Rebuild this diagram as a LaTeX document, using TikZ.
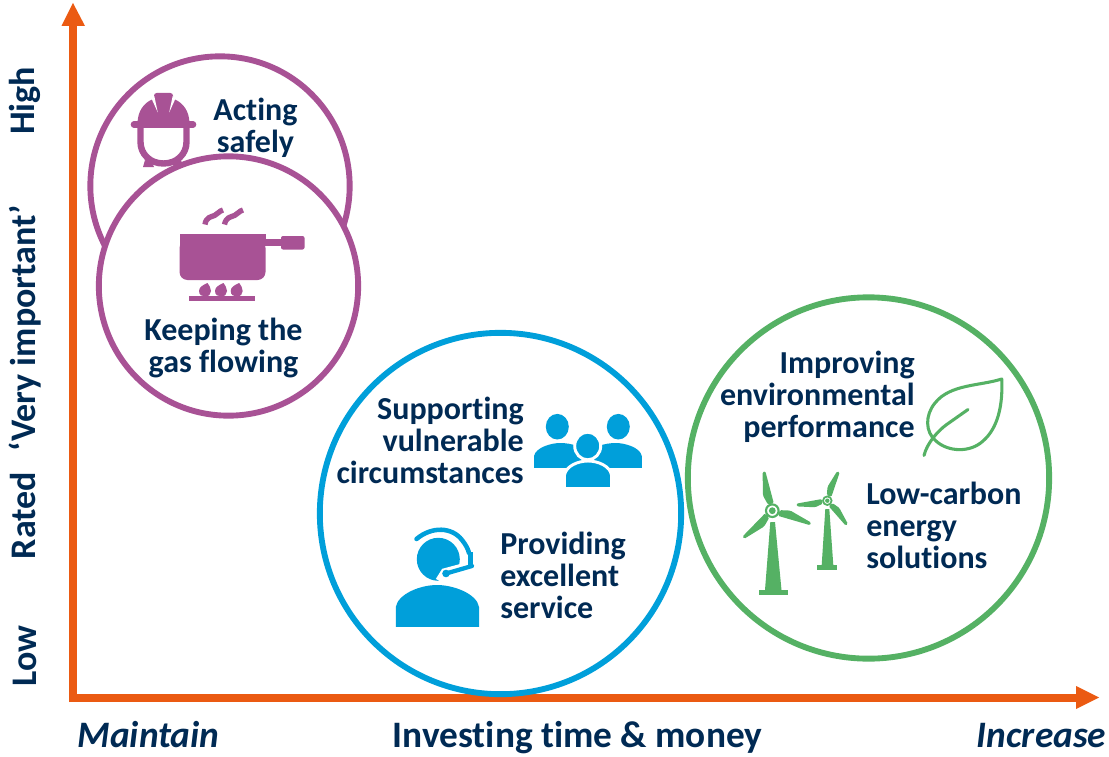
\documentclass[tikz,border=0pt]{standalone}
\usepackage{fontspec}
\setmainfont{Carlito}[Ligatures=CommonOff]
\definecolor{navy}{HTML}{002A54}
\definecolor{orng}{HTML}{EB5A12}
\definecolor{purp}{HTML}{A85295}
\definecolor{blu}{HTML}{009FDA}
\definecolor{grn}{HTML}{55B164}
\newcommand\myblade[6]{% x,y,angle,length,r0,width scale
  \begin{scope}[shift={(#1,#2)},rotate=#3]
    \fill[grn,rounded corners=1pt] (#5,-3*#6) -- (#4*.42,-6*#6) -- (#4,-1.4) -- (#4,1.4) -- (#5,3*#6) -- cycle;
  \end{scope}}
\tikzset{
  ring/.style={draw=#1,line width=4.4pt,fill=white,circle,inner sep=0pt},
  big/.style={minimum size=271pt},
  small/.style={minimum size=194.5pt},
  lab/.style={text=navy,font=\fontsize{24}{24}\selectfont\bfseries,align=#1,inner sep=0pt},
  axl/.style={text=navy,font=\fontsize{28}{28}\selectfont\bfseries,inner sep=0pt},
  axv/.style={axl,rotate=90,font=\fontsize{27}{27}\selectfont\bfseries},
  axi/.style={axl,font=\fontsize{28}{28}\selectfont\bfseries\itshape},
  axis/.style={draw=orng,line width=6pt}
}
\begin{document}
\begin{tikzpicture}[x=0.75pt,y=-0.75pt]
\useasboundingbox (0,0) rectangle (1109,756);
% axes
\coordinate (o) at (73,698);
\coordinate (ytip) at (73,3);
\coordinate (xtip) at (1099,697.5);
\coordinate (ybase) at (73,26);
\coordinate (xbase) at (1077,698);
\draw[axis] (73,702) -- (ybase);
\draw[axis] (69,698) -- (xbase);
\fill[orng] (ytip) -- (85,26) -- (61.5,26) -- cycle;
\fill[orng] (xtip) -- (1076,686) -- (1076,709) -- cycle;
% rings
\node[ring=purp,small] (r1) at (220,186) {};
\node[ring=purp,small] (r2) at (228.5,286) {};
\node[ring=blu,big] (r3) at (500.5,513.5) {};
\node[ring=grn,big] (r4) at (868.5,478) {};
% helmet
\fill[purp] (137.5,124) .. controls (137.5,111) and (144,103) .. (152,99.5) -- (163.5,98) -- (175,99.5) .. controls (183,103) and (189.5,111) .. (189.5,124) -- cycle;
\fill[purp,rounded corners=2pt] (154,93) rectangle (173,104);
\fill[white] (151.5,98.5) -- (154.3,96) -- (157.8,112.5) -- cycle;
\fill[white] (175.5,98.5) -- (172.7,96) -- (169.2,112.5) -- cycle;
\draw[purp,line width=5pt,line cap=round] (134,124.5) -- (193,124.5);
\draw[purp,line width=4.8pt] (140.5,126) -- (140.5,142) .. controls (140.5,154) and (150,163.5) .. (163.5,163.5) .. controls (177,163.5) and (186.5,154) .. (186.5,142) -- (186.5,126);
\fill[purp] (143,167) -- (145,160) -- (152,163) -- (154,167) -- cycle;
\fill[purp] (183,167) -- (181,160) -- (174,163) -- (173,167) -- cycle;
% pot
\fill[purp,rounded corners=6pt] (179.5,240) -- (179.5,280) -- (265.5,280) -- (265.5,240) -- cycle;
\fill[purp] (179.5,234) rectangle (265.5,245);
\fill[purp] (265,238.5) rectangle (283,246);
\fill[purp,rounded corners=1.5pt] (281,236) rectangle (304.5,249.5);
\draw[purp,line width=4pt] (205,224.5) .. controls (206,217) and (211,217) .. (214.5,215.5) .. controls (218,214) and (219,211) .. (223,210);
\draw[purp,line width=4pt] (224.5,224.5) .. controls (226,217) and (231,217) .. (234.5,215.5) .. controls (238,214) and (239,211) .. (243,210);
\foreach \fx in {205,221,236.7}{
  \fill[purp] (\fx+2.5,283) .. controls (\fx-2,285) and (\fx-6,287) .. (\fx-6,291) .. controls (\fx-6,295) and (\fx-3,296.5) .. (\fx,296.5) .. controls (\fx+4,296.5) and (\fx+6,294) .. (\fx+6,291) .. controls (\fx+6,288) and (\fx+4,285) .. (\fx+2.5,283) -- cycle;
}
\fill[purp] (188.5,296) rectangle (255,300.5);
% people
\fill[blu] (557.3,426.7) ellipse [x radius=11.5,y radius=12.8];
\fill[blu] (618.3,426.7) ellipse [x radius=11.5,y radius=12.8];
\fill[blu] (534,467.8) -- (534,456) .. controls (536,447) and (552,443) .. (560,443) .. controls (572,443) and (585,447) .. (590,456) -- (590,467.8) -- cycle;
\fill[blu] (641.8,467.8) -- (641.8,456) .. controls (640,447) and (624,443) .. (616,443) .. controls (604,443) and (591,447) .. (586,456) -- (586,467.8) -- cycle;
\fill[blu,draw=white,line width=2.2pt] (587.7,446) ellipse [x radius=13,y radius=13.8];
\fill[blu,draw=white,line width=2.2pt] (564.5,488.5) -- (564.5,475) .. controls (566,466) and (578,461) .. (588,461) .. controls (598,461) and (610,466) .. (611.5,475) -- (611.5,488.5) -- cycle;
% agent
\fill[blu] (438.3,559.3) circle [radius=21.5];
\draw[white,line width=9pt] (472,567) -- (446,574) -- (441,582);
\draw[blu,line width=3.4pt,line cap=round] (416.5,539) .. controls (432,526) and (452,527) .. (462,540) .. controls (466,545) and (468,549) .. (469,553);
\fill[blu] (467.5,552) rectangle (473,566.5);
\draw[blu,line width=3.2pt,line cap=round] (472,566) -- (446,573.5);
\fill[blu] (446,573.5) circle [radius=3.8];
\fill[blu] (395.8,626.8) -- (395.8,607) .. controls (398,594) and (420,585) .. (437,585) .. controls (454,585) and (477,594) .. (479,607) -- (479,626.8) -- cycle;
% leaf
\draw[grn,line width=2.3pt,line join=round,line cap=round] (1001.7,379) .. controls (980,386) and (950,384) .. (935,403) .. controls (925,415) and (925,432) .. (936,441) .. controls (948,452) and (970,453) .. (983,441) .. controls (998,428) and (1003,405) .. (1001.7,379) -- cycle;
\draw[grn,line width=2.3pt,line cap=round] (924,455.5) .. controls (927,443) and (938,431) .. (946,425) -- (968,409.5);
% big turbine
\myblade{772.3}{510.7}{102}{40}{7}{1}
\myblade{772.3}{510.7}{-19}{40.6}{7}{1}
\myblade{772.3}{510.7}{223}{39.6}{7}{1}
\fill[grn] (770.3,522) -- (775,522) -- (781.5,590) -- (765,590) -- cycle;
\fill[grn] (759.3,590) rectangle (787.7,595);
\draw[grn,line width=1.6pt] (772.3,510.7) circle [radius=6.3];
\fill[grn] (772.3,510.7) circle [radius=3.4];
% small turbine
\myblade{827.3}{500.7}{69}{31}{5}{.8}
\myblade{827.3}{500.7}{188}{31}{5}{.8}
\myblade{827.3}{500.7}{-51}{31}{5}{.8}
\fill[grn] (825.3,509) -- (829.3,509) -- (833.3,565) -- (821.7,565) -- cycle;
\fill[grn] (817.3,565) rectangle (837.3,569.5);
\draw[grn,line width=1.3pt] (827.3,500.7) circle [radius=4.3];
\fill[grn] (827.3,500.7) circle [radius=2.2];
% labels
\node[lab=center] (t1) at (255.5,128) {Acting\\safely};
\node[lab=center] (t2) at (223.5,347.5) {Keeping the\\gas flowing};
\node[lab=right,anchor=east] (t3) at (524,440) {Supporting\\vulnerable\\circumstances};
\node[lab=left,anchor=west] (t4) at (500,575) {Providing\\excellent\\service};
\node[lab=right,anchor=east] (t5) at (915,397) {Improving\\environmental\\performance};
\node[lab=left,anchor=west] (t6) at (866,525) {Low-carbon\\energy\\solutions};
\node[axv] (a1) at (25,101) {High};
\node[axv] (a2) at (25,382) {Rated\hspace{9pt} ‘Very important’};
\node[axv] (a3) at (25,656) {Low};
\node[axi] (a4) at (148.5,735) {Maintain};
\node[axl] (a5) at (577.5,738) {Investing time \& money};
\node[axi] (a6) at (1041.5,736) {Increase};
\end{tikzpicture}
\end{document}
